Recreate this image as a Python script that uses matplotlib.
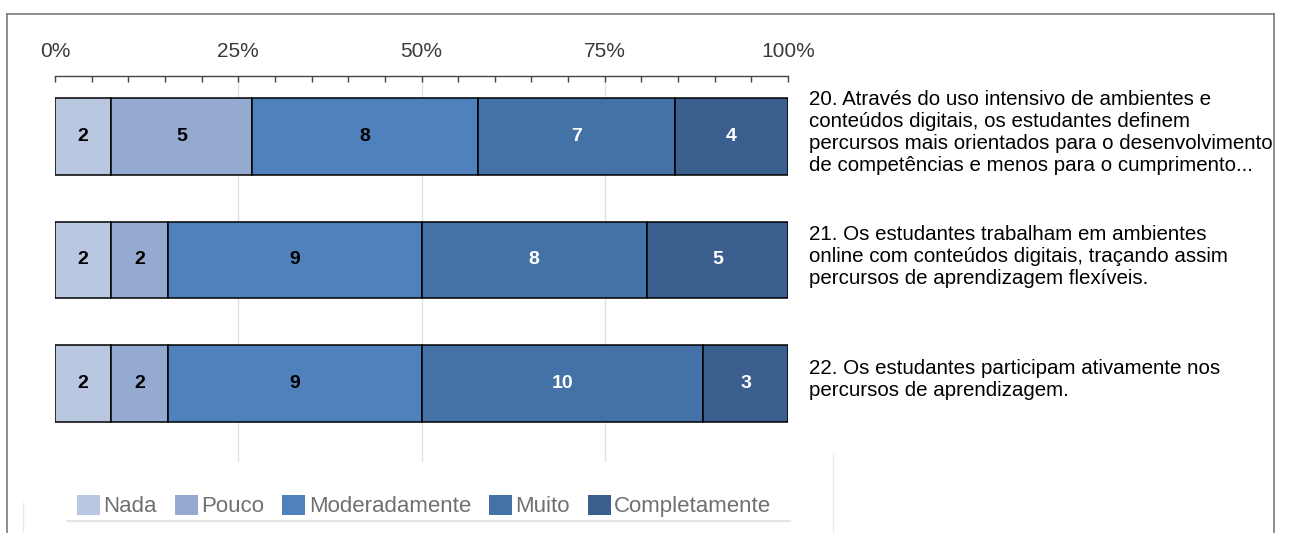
import numpy as np
import matplotlib.pyplot as plt
from matplotlib.patches import Patch
from matplotlib.lines import Line2D

plt.rcParams['font.family'] = ['Liberation Sans', 'DejaVu Sans']

categories = ['Nada', 'Pouco', 'Moderadamente', 'Muito', 'Completamente']
questions = [
    '20. Através do uso intensivo de ambientes e\nconteúdos digitais, os estudantes definem\n'
    'percursos mais orientados para o desenvolvimento\nde competências e menos para o cumprimento...',
    '21. Os estudantes trabalham em ambientes\nonline com conteúdos digitais, traçando assim\n'
    'percursos de aprendizagem flexíveis.',
    '22. Os estudantes participam ativamente nos\npercursos de aprendizagem.',
]
counts = np.array([
    [2, 5, 8, 7, 4],
    [2, 2, 9, 8, 5],
    [2, 2, 9, 10, 3],
])
ticks = [0, 25, 50, 75, 100]
tick_labels = ['0%', '25%', '50%', '75%', '100%']

colors = ['#b9c7e1', '#95aad0', '#4f81bd', '#4472a6', '#3a5e8d']
text_colors = ['black', 'black', 'black', 'white', 'white']

W, H = 1290, 533
fig = plt.figure(figsize=(W / 100, H / 100), dpi=100)
ax = fig.add_axes([55 / W, 1 - 462 / H, 733 / W, (462 - 76) / H])

pct = counts / counts.sum(axis=1, keepdims=True) * 100
y = np.arange(len(questions))
left = np.zeros(len(questions))
for j, cat in enumerate(categories):
    ax.barh(y, pct[:, j], left=left, height=0.623, color=colors[j],
            edgecolor='black', linewidth=1.1, zorder=3)
    for i in range(len(questions)):
        ax.text(left[i] + pct[i, j] / 2, y[i], str(counts[i, j]),
                ha='center', va='center', fontsize=14, fontweight='bold',
                color=text_colors[j], zorder=4)
    left += pct[:, j]

for i, q in enumerate(questions):
    ax.text(102.8, y[i] - 0.03, q, ha='left', va='center', fontsize=14.8,
            linespacing=1.2, color='black')

for g in ticks[1:-1]:
    ax.axvline(g, color='#e2e2e2', linewidth=1, zorder=1)

ax.set_xlim(0, 100)
ax.set_ylim(2.636, -0.49)
ax.xaxis.tick_top()
ax.set_xticks(ticks)
ax.set_xticklabels(tick_labels)
ax.set_xticks(np.arange(0, 101, 5), minor=True)
ax.tick_params(axis='x', which='both', direction='in', length=4, width=1,
               color='#444444', labelsize=15, labelcolor='#3a3a3a', pad=11)
ax.set_yticks([])
for s in ['left', 'right', 'bottom']:
    ax.spines[s].set_visible(False)
ax.spines['top'].set_color('#444444')
ax.spines['top'].set_linewidth(1)
ax.patch.set_visible(False)

handles = [Patch(facecolor=c, edgecolor='none') for c in colors]
fig.legend(handles, categories, loc='center', bbox_to_anchor=(424 / W, 1 - 506 / H),
           ncol=5, frameon=False, fontsize=16, labelcolor='#707070',
           handlelength=1.05, handleheight=1.05, handletextpad=0.15,
           columnspacing=0.8, borderpad=0)

# frame and separator lines around the chart
def fline(xs, ys, color, lw):
    fig.add_artist(Line2D([x / W for x in xs], [1 - v / H for v in ys],
                          color=color, linewidth=lw))

fline([7, 1274], [14, 14], '#7a7a7a', 1.2)
fline([7, 7], [14, 533], '#7a7a7a', 1.2)
fline([1274, 1274], [14, 533], '#7a7a7a', 1.2)
fline([67, 790], [521, 521], '#e4e4e4', 1.5)
fline([833, 833], [455, 533], '#e8e8e8', 1)
fline([23, 23], [503, 533], '#e8e8e8', 1)

fig.savefig('out.png', dpi=100)
